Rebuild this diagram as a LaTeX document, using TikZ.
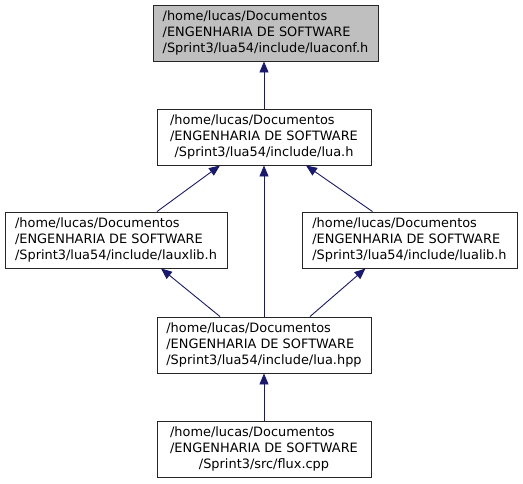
\documentclass[tikz,border=0pt]{standalone}
\usepackage{fontspec}
\setmainfont{DejaVu Sans}
\usetikzlibrary{arrows.meta,calc}
\definecolor{edgecol}{HTML}{191970}
\definecolor{rootfill}{HTML}{BFBFBF}
\tikzset{
  file/.style={draw=black!85, line width=0.9pt, fill=white, minimum width=214pt, minimum height=56pt, inner sep=0pt, font=\fontsize{12.9}{16}\selectfont},
  root/.style={file, fill=rootfill, minimum width=225pt},
  dep/.style={draw=edgecol, line width=0.9pt, -{Triangle[length=11pt,width=9pt]}},
}
\newcommand{\threelines}[3]{\begin{tabular}{@{}l@{}}#1\\#2\\\multicolumn{1}{@{}c@{}}{#3}\end{tabular}}
\begin{document}
\begin{tikzpicture}[x=1pt,y=-1pt]
\useasboundingbox (0,0) rectangle (523,483);
\node[root] (luaconf) at (265.5,33) {\threelines{/home/lucas/Documentos}{/ENGENHARIA DE SOFTWARE}{/Sprint3/lua54/include/luaconf.h}};
\node[file] (luah) at (264,137) {\threelines{/home/lucas/Documentos}{/ENGENHARIA DE SOFTWARE}{/Sprint3/lua54/include/lua.h}};
\node[file, minimum width=222pt] (lauxlib) at (116,240) {\threelines{/home/lucas/Documentos}{/ENGENHARIA DE SOFTWARE}{/Sprint3/lua54/include/lauxlib.h}};
\node[file, minimum width=215pt] (lualib) at (409.5,240) {\threelines{/home/lucas/Documentos}{/ENGENHARIA DE SOFTWARE}{/Sprint3/lua54/include/lualib.h}};
\node[file] (luahpp) at (264,345) {\threelines{/home/lucas/Documentos}{/ENGENHARIA DE SOFTWARE}{/Sprint3/lua54/include/lua.hpp}};
\node[file] (flux) at (264,449) {\threelines{/home/lucas/Documentos}{/ENGENHARIA DE SOFTWARE}{/Sprint3/src/flux.cpp}};
\draw[dep] (luah.north) -- (luah.north |- luaconf.south);
\draw[dep] ($(lauxlib.north)+(41,0)$) -- ($(luah.south)+(-44,0)$);
\draw[dep] ($(lualib.north)+(-37,0)$) -- ($(luah.south)+(42,0)$);
\draw[dep] (luahpp.north) -- (luah.south);
\draw[dep] ($(luahpp.north)+(-44,0)$) -- ($(lauxlib.south)+(45,0)$);
\draw[dep] ($(luahpp.north)+(46,0)$) -- ($(lualib.south)+(-44,0)$);
\draw[dep] (flux.north) -- (luahpp.south);
\end{tikzpicture}
\end{document}
